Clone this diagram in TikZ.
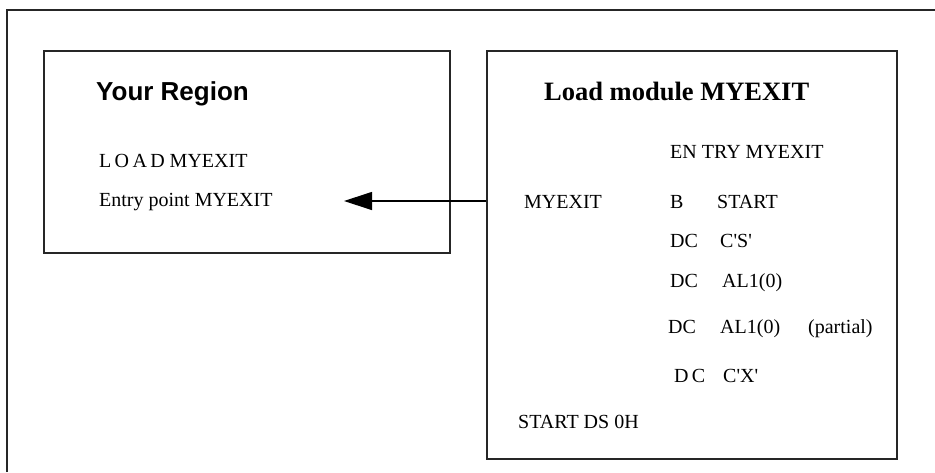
\documentclass[tikz,border=0pt]{standalone}
\usepackage{fontspec}
\setmainfont{Liberation Serif}
\newfontfamily\headsans{Liberation Sans}
\usetikzlibrary{arrows.meta}
\newcommand{\sq}{\textquotesingle}
\tikzset{
  frame/.style={line width=2pt, draw=black!85},
  box/.style={draw=black!85, line width=2pt, fill=none, inner sep=0pt, anchor=north west},
  txt/.style={inner sep=0pt, anchor=base west, font=\fontsize{20}{24}\selectfont},
  head/.style={inner sep=0pt, anchor=base west},
  conn/.style={line width=1.2pt, -{Triangle[length=28pt,width=18pt]}}
}
\begin{document}
\begin{tikzpicture}[x=1pt,y=-1pt]
\useasboundingbox (0,0) rectangle (935,472);
% outer frame (cropped)
\coordinate (fl) at (7,472);
\coordinate (fc) at (7,10);
\coordinate (fr) at (935,10);
\draw[frame] (fl) -- (fc) -- (fr);
% boxes
\node[box, minimum width=406pt, minimum height=202pt] (lbox) at (43,50) {};
\node[box, minimum width=410pt, minimum height=408pt] (rbox) at (486,50) {};
% left box text
\node[head, font=\headsans\bfseries\fontsize{26}{30}\selectfont] (yr) at (96,100) {Your Region};
\node[txt] (load) at (99,167) {L\,O\,A\,D MYEXIT};
\node[txt] (entry) at (99,206) {Entry point MYEXIT};
% right box text
\node[head, font=\bfseries\fontsize{26.5}{30}\selectfont] (lm) at (544,100) {Load module MYEXIT};
\node[txt] (ent) at (670,158) {EN TRY MYEXIT};
\node[txt] (lbl) at (524,208) {MYEXIT};
\node[txt] (b) at (670,208) {B};
\node[txt] (start) at (717,208) {START};
\node[txt] (dc1) at (670,247) {DC};
\node[txt] (cs) at (720,247) {C\sq S\sq};
\node[txt] (dc2) at (670,287) {DC};
\node[txt] (al1) at (722,287) {AL1(0)};
\node[txt] (dc3) at (668,333) {DC};
\node[txt] (al2) at (720,333) {AL1(0)};
\node[txt] (part) at (808,333) {(partial)};
\node[txt] (dc4) at (674,382) {D\,C};
\node[txt] (cx) at (723,382) {C\sq X\sq};
\node[txt] (sds) at (518,428) {START DS 0H};
% connector
\coordinate (tip) at (344,201);
\draw[conn] (rbox.west |- tip) -- (tip);
\end{tikzpicture}
\end{document}
